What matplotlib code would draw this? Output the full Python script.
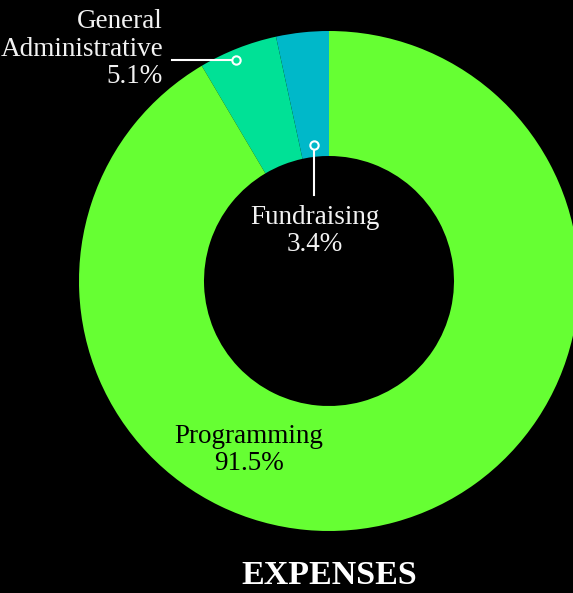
import matplotlib.pyplot as plt

# data
categories = ['Fundraising', 'General\nAdministrative', 'Programming']
shares = [3.4, 5.1, 91.5]
colors = ['#00b8c9', '#00e196', '#66ff33']

W, H = 573, 593

fig = plt.figure(figsize=(W / 100, H / 100), dpi=100, facecolor='black')
ax = fig.add_axes([0, 0, 1, 1])
ax.set_facecolor('black')

# donut, pixel coords with y going up
cx, cy, r = 329, H - 281, 250
ax.pie(shares, colors=colors, startangle=90, counterclock=True,
       center=(cx, cy), radius=r, frame=True,
       wedgeprops=dict(width=125, linewidth=0))
ax.set_xlim(0, W)
ax.set_ylim(0, H)
ax.set_aspect('equal')
ax.axis('off')

font = ['Liberation Serif', 'DejaVu Serif']
fs = 19.5

def lab(i):
    return '%s\n%.1f%%' % (categories[i], shares[i])

# General Administrative
ax.text(163, H - 49, lab(1), ha='right', va='center', color='#f2f2f2',
        fontsize=fs, family=font, linespacing=1.12)
ax.plot([172, 236], [H - 60, H - 60], color='white', lw=1.5)
ax.plot(236, H - 60, 'o', ms=6, mfc='#00e196', mec='white', mew=1.5)

# Fundraising
ax.text(315, H - 231, lab(0), ha='center', va='center', color='#f2f2f2',
        fontsize=fs, family=font, linespacing=1.12)
ax.plot([314, 314], [H - 145, H - 195], color='white', lw=1.5)
ax.plot(314, H - 145, 'o', ms=6, mfc='#00b8c9', mec='white', mew=1.5)

# Programming
ax.text(249, H - 450, lab(2), ha='center', va='center', color='black',
        fontsize=fs, family=font, linespacing=1.12)

ax.text(329, H - 575, 'EXPENSES', ha='center', va='center', color='white',
        fontsize=24.5, fontweight='bold', family=font)

fig.savefig('out.png', dpi=100, facecolor='black')
